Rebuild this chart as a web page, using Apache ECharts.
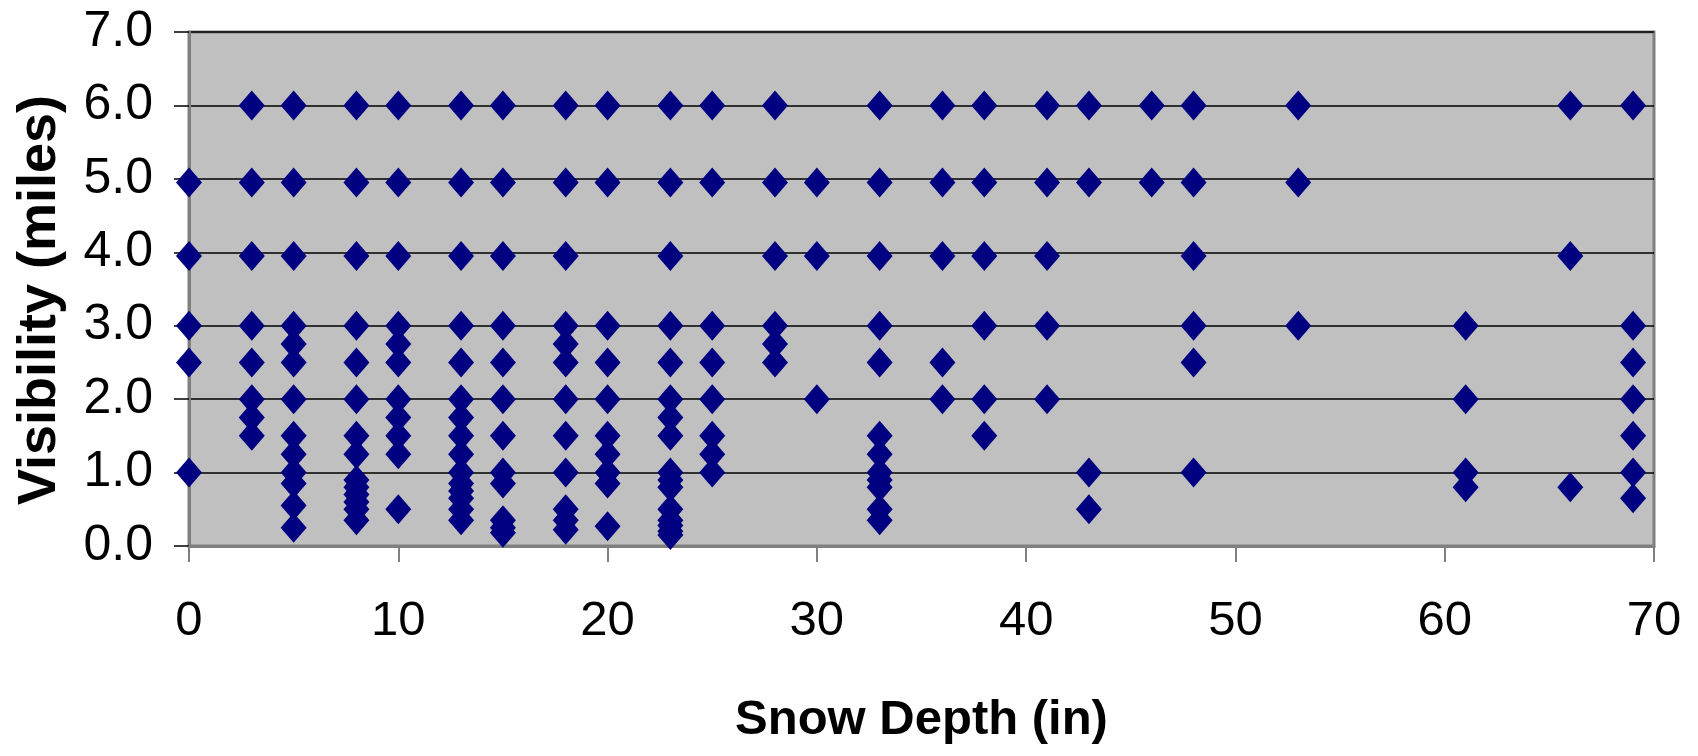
<!DOCTYPE html>
<html>
<head>
<meta charset="utf-8">
<script src="https://cdn.jsdelivr.net/npm/echarts@6/dist/echarts.min.js"></script>
<style>
  html, body { margin: 0; padding: 0; background: #ffffff; }
  #chart { width: 1698px; height: 756px; }
</style>
</head>
<body>
<div id="chart"></div>
<script>
// Snow depth columns (in) and the visibility readings (miles) observed at each depth
const snowDepths = [0, 3, 5, 8, 10, 13, 15, 18, 20, 23, 25, 28, 30, 33, 36, 38, 41, 43, 46, 48, 53, 61, 66, 69];

const visAt0  = [4.95, 3.95, 3, 2.5, 1.0];
const visAt3  = [6, 4.95, 3.95, 3, 2.5, 2, 1.75, 1.5];
const visAt5  = [6, 4.95, 3.95, 3, 2.75, 2.5, 2, 1.5, 1.25, 1.0, 0.85, 0.55, 0.25];
const visAt8  = [6, 4.95, 3.95, 3, 2.5, 2, 1.5, 1.25, 0.9, 0.8, 0.7, 0.6, 0.5, 0.35];
const visAt10 = [6, 4.95, 3.95, 3, 2.75, 2.5, 2, 1.75, 1.5, 1.25, 0.5];
const visAt13 = [6, 4.95, 3.95, 3, 2.5, 2, 1.75, 1.5, 1.25, 1.0, 0.85, 0.75, 0.65, 0.5, 0.35];
const visAt15 = [6, 4.95, 3.95, 3, 2.5, 2, 1.5, 1.0, 0.85, 0.35, 0.25, 0.18];
const visAt18 = [6, 4.95, 3.95, 3, 2.75, 2.5, 2, 1.5, 1.0, 0.5, 0.35, 0.22];
const visAt20 = [6, 4.95, 3, 2.5, 2, 1.5, 1.25, 1.0, 0.85, 0.27];
const visAt23 = [6, 4.95, 3.95, 3, 2.5, 2, 1.75, 1.5, 1.0, 0.9, 0.8, 0.5, 0.35, 0.28, 0.2, 0.15];
const visAt25 = [6, 4.95, 3, 2.5, 2, 1.5, 1.25, 1.0];
const visAt28 = [6, 4.95, 3.95, 3, 2.75, 2.5];
const visAt30 = [4.95, 3.95, 2];
const visAt33 = [6, 4.95, 3.95, 3, 2.5, 1.5, 1.25, 1.0, 0.9, 0.8, 0.5, 0.35];
const visAt36 = [6, 4.95, 3.95, 2.5, 2];
const visAt38 = [6, 4.95, 3.95, 3, 2, 1.5];
const visAt41 = [6, 4.95, 3.95, 3, 2];
const visAt43 = [6, 4.95, 1.0, 0.5];
const visAt46 = [6, 4.95];
const visAt48 = [6, 4.95, 3.95, 3, 2.5, 1.0];
const visAt53 = [6, 4.95, 3];
const visAt61 = [3, 2, 1.0, 0.8];
const visAt66 = [6, 3.95, 0.8];
const visAt69 = [6, 3, 2.5, 2, 1.5, 1.0, 0.65];

const visibilityColumns = [visAt0, visAt3, visAt5, visAt8, visAt10, visAt13, visAt15, visAt18,
  visAt20, visAt23, visAt25, visAt28, visAt30, visAt33, visAt36, visAt38, visAt41, visAt43,
  visAt46, visAt48, visAt53, visAt61, visAt66, visAt69];

const xTicks = [0, 10, 20, 30, 40, 50, 60, 70];
const yTicks = [0, 1, 2, 3, 4, 5, 6, 7];

const points = [];
snowDepths.forEach((d, i) => {
  visibilityColumns[i].forEach(v => points.push([d, v]));
});

const FONT = "'Liberation Sans', Arial, Helvetica, sans-serif";

const chart = echarts.init(document.getElementById('chart'), null, { renderer: 'canvas' });
chart.setOption({
  animation: false,
  backgroundColor: '#ffffff',
  grid: {
    left: 189, right: 44, top: 32, bottom: 210,
    show: true,
    backgroundColor: '#C0C0C0',
    borderColor: '#808080',
    borderWidth: 3
  },
  xAxis: {
    type: 'value',
    min: xTicks[0], max: xTicks[xTicks.length - 1], interval: 10,
    name: 'Snow Depth (in)',
    nameLocation: 'middle',
    nameGap: 150,
    nameTextStyle: { fontFamily: FONT, fontWeight: 'bold', fontSize: 49, color: '#000' },
    axisLine: { show: true, lineStyle: { color: '#808080', width: 3 } },
    axisTick: { show: true, inside: false, length: 16, lineStyle: { color: '#808080', width: 2 } },
    axisLabel: { fontFamily: FONT, fontSize: 49, color: '#000', margin: 51 },
    splitLine: { show: false }
  },
  yAxis: {
    type: 'value',
    min: yTicks[0], max: yTicks[yTicks.length - 1], interval: 1,
    name: 'Visibility (miles)',
    nameLocation: 'middle',
    nameRotate: 90,
    nameGap: 122,
    nameTextStyle: { fontFamily: FONT, fontWeight: 'bold', fontSize: 54, color: '#000', padding: [0, 22, 0, 0] },
    axisLine: { show: true, lineStyle: { color: '#808080', width: 3 } },
    axisTick: { show: true, inside: false, length: 15, lineStyle: { color: '#000', width: 1.5 } },
    axisLabel: {
      fontFamily: FONT, fontSize: 50, color: '#000', margin: 36,
      formatter: v => v.toFixed(1)
    },
    splitLine: { show: true, lineStyle: { color: '#000', width: 1.5 } }
  },
  series: [{
    type: 'scatter',
    data: points,
    symbol: 'diamond',
    symbolSize: [26, 30],
    clip: false,
    itemStyle: { color: '#000080', opacity: 1 }
  }]
});
</script>
</body>
</html>
